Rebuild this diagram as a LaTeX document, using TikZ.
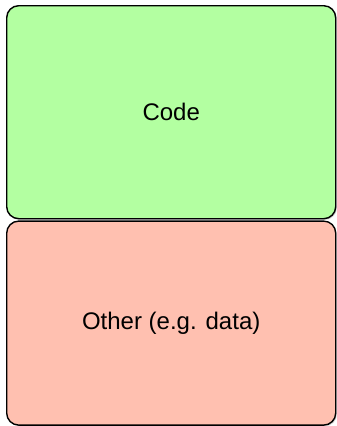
\documentclass[tikz,border=0pt]{standalone}
\usepackage{fontspec}
\setmainfont{Liberation Sans}
\usetikzlibrary{positioning, shadows}
\definecolor{codegreen}{HTML}{B3FFA1}
\definecolor{otherred}{HTML}{FFC0B0}
\tikzstyle{region}  = [rectangle, rounded corners=12pt, minimum width=329pt,
                       draw=black, line width=1.4pt, text centered,
                       font=\fontsize{24}{28}\selectfont,
                       drop shadow={shadow xshift=1.2pt, shadow yshift=-1.2pt, opacity=0.35}]
\tikzstyle{region1} = [region, fill=codegreen, minimum height=213pt]
\tikzstyle{region2} = [region, fill=otherred, minimum height=204pt]

\begin{document}
\begin{tikzpicture}[x=1pt, y=1pt]

  \useasboundingbox (0,0) rectangle (337,-426);

  %% Memory layout
  \node[region1, anchor=north west] (code) at (6,-5) {Code};
  \node[region2, below=1pt of code] (other) {Other (e.g. data)};

\end{tikzpicture}
\end{document}
